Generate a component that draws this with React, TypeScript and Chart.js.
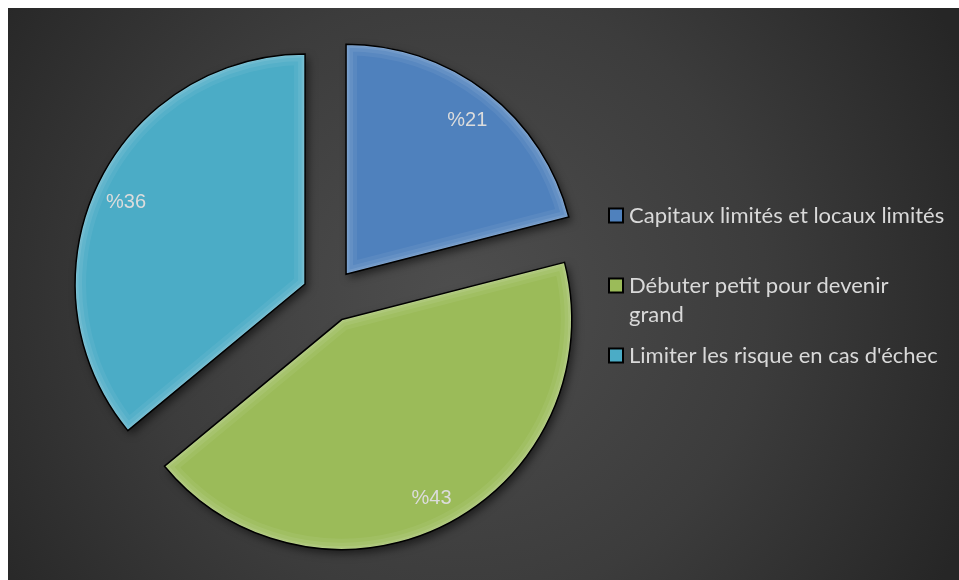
import React, { useEffect, useRef } from 'react';
import { Chart, registerables } from 'chart.js';

Chart.register(...registerables);

const categories = [
  'Capitaux limités et locaux limités',
  'Débuter petit pour devenir grand',
  "Limiter les risque en cas d'échec",
];
const values = [21, 43, 36];
const valueLabels = ['%21', '%43', '%36'];
const sliceColors = ['#4F81BD', '#9BBB59', '#4BACC6'];

function bevelArcDraw(this: any, ctx: CanvasRenderingContext2D) {
  const { x, y, startAngle, endAngle, outerRadius, options } = this;
  const mid = (startAngle + endAngle) / 2;
  const off = options.offset || 0;
  const cx = x + Math.cos(mid) * off;
  const cy = y + Math.sin(mid) * off;
  const r = outerRadius;
  const path = () => {
    ctx.beginPath();
    ctx.moveTo(cx, cy);
    ctx.arc(cx, cy, r, startAngle, endAngle);
    ctx.closePath();
  };
  ctx.save();
  ctx.shadowColor = 'rgba(0,0,0,0.55)';
  ctx.shadowBlur = 8;
  ctx.shadowOffsetX = 3;
  ctx.shadowOffsetY = 4;
  path();
  ctx.fillStyle = options.backgroundColor;
  ctx.fill();
  ctx.restore();

  ctx.save();
  path();
  ctx.clip();
  ctx.lineJoin = 'miter';
  const rims: [number, string][] = [
    [22, 'rgba(255,255,255,0.06)'],
    [14, 'rgba(255,255,255,0.07)'],
    [7, 'rgba(255,255,255,0.09)'],
    [3, 'rgba(255,255,255,0.12)'],
  ];
  for (const [w, c] of rims) {
    path();
    ctx.strokeStyle = c;
    ctx.lineWidth = w;
    ctx.stroke();
  }
  ctx.restore();

  ctx.save();
  path();
  ctx.strokeStyle = options.borderColor;
  ctx.lineWidth = options.borderWidth;
  ctx.lineJoin = 'miter';
  ctx.stroke();
  ctx.restore();
}

const backgroundPlugin = {
  id: 'bgGradient',
  beforeDraw(chart: any) {
    const { ctx, width, height } = chart;
    ctx.save();
    const g = ctx.createRadialGradient(450, 290, 0, 450, 290, 560);
    g.addColorStop(0, '#4e4e4e');
    g.addColorStop(0.55, '#3c3c3c');
    g.addColorStop(1, '#262626');
    ctx.fillStyle = g;
    ctx.fillRect(0, 0, width, height);
    ctx.restore();
  },
};

const bevelPlugin = {
  id: 'bevelArcs',
  beforeDatasetsDraw(chart: any) {
    const meta = chart.getDatasetMeta(0);
    meta.data.forEach((el: any) => {
      el.draw = bevelArcDraw;
    });
  },
};

const sliceLabelPlugin = {
  id: 'sliceLabels',
  afterDatasetsDraw(chart: any) {
    const { ctx } = chart;
    const meta = chart.getDatasetMeta(0);
    ctx.save();
    ctx.font = '20px "Liberation Sans", Arial, sans-serif';
    ctx.fillStyle = '#dcdcdc';
    ctx.textAlign = 'center';
    ctx.textBaseline = 'middle';
    meta.data.forEach((el: any, i: number) => {
      const { x, y, startAngle, endAngle, outerRadius, options } = el;
      const mid = (startAngle + endAngle) / 2;
      const off = options.offset || 0;
      const d = off + outerRadius * 0.86;
      ctx.fillText(valueLabels[i], x + Math.cos(mid) * d, y + Math.sin(mid) * d + 3);
    });
    ctx.restore();
  },
};

const legendPlugin = {
  id: 'wrapLegend',
  afterDraw(chart: any) {
    const { ctx } = chart;
    const boxX = 600;
    const textX = 621;
    const maxW = 318;
    const lineH = 29;
    const slotGap = 12;
    const top = 193;
    ctx.save();
    ctx.font = '22px Lato, "Open Sans", sans-serif';
    ctx.textBaseline = 'middle';
    ctx.textAlign = 'left';
    const wrapped = categories.map((t) => {
      const words = t.split(' ');
      const lines: string[] = [];
      let cur = '';
      for (const w of words) {
        const test = cur ? cur + ' ' + w : w;
        if (ctx.measureText(test).width > maxW && cur) {
          lines.push(cur);
          cur = w;
        } else cur = test;
      }
      if (cur) lines.push(cur);
      return lines;
    });
    const maxLines = Math.max(...wrapped.map((l) => l.length));
    const slotH = maxLines * lineH + slotGap;
    wrapped.forEach((lines, i) => {
      const y0 = top + i * slotH + lineH / 2;
      ctx.fillStyle = sliceColors[i];
      ctx.fillRect(boxX + 1, y0 - 7, 14, 14);
      ctx.strokeStyle = '#000';
      ctx.lineWidth = 2;
      ctx.strokeRect(boxX + 1, y0 - 7, 14, 14);
      ctx.fillStyle = '#d9d9d9';
      lines.forEach((ln, j) => ctx.fillText(ln, textX, y0 + j * lineH));
    });
    ctx.restore();
  },
};

export default function App() {
  const ref = useRef<HTMLCanvasElement | null>(null);
  useEffect(() => {
    document.documentElement.style.overflow = 'hidden';
    if (!ref.current) return;
    const chart = new Chart(ref.current, {
      type: 'pie',
      data: {
        labels: categories,
        datasets: [
          {
            data: values,
            backgroundColor: sliceColors,
            borderColor: '#000000',
            borderWidth: 1.5,
            offset: 27,
            radius: 230,
            clip: false,
          } as any,
        ],
      },
      options: {
        responsive: false,
        animation: false,
        layout: { padding: { left: 0, right: 308, top: 3, bottom: 0 } },
        plugins: {
          legend: { display: false },
          tooltip: { enabled: false },
        },
        events: [],
      },
      plugins: [backgroundPlugin, bevelPlugin, sliceLabelPlugin, legendPlugin],
    });
    return () => chart.destroy();
  }, []);
  return (
    <div
      style={{
        position: 'fixed',
        left: 8,
        top: 8,
        width: 960,
        height: 580,
        background: '#282828',
      }}
    >
      <canvas
        ref={ref}
        width={951}
        height={572}
        style={{ display: 'block', width: 951, height: 572 }}
      />
    </div>
  );
}
